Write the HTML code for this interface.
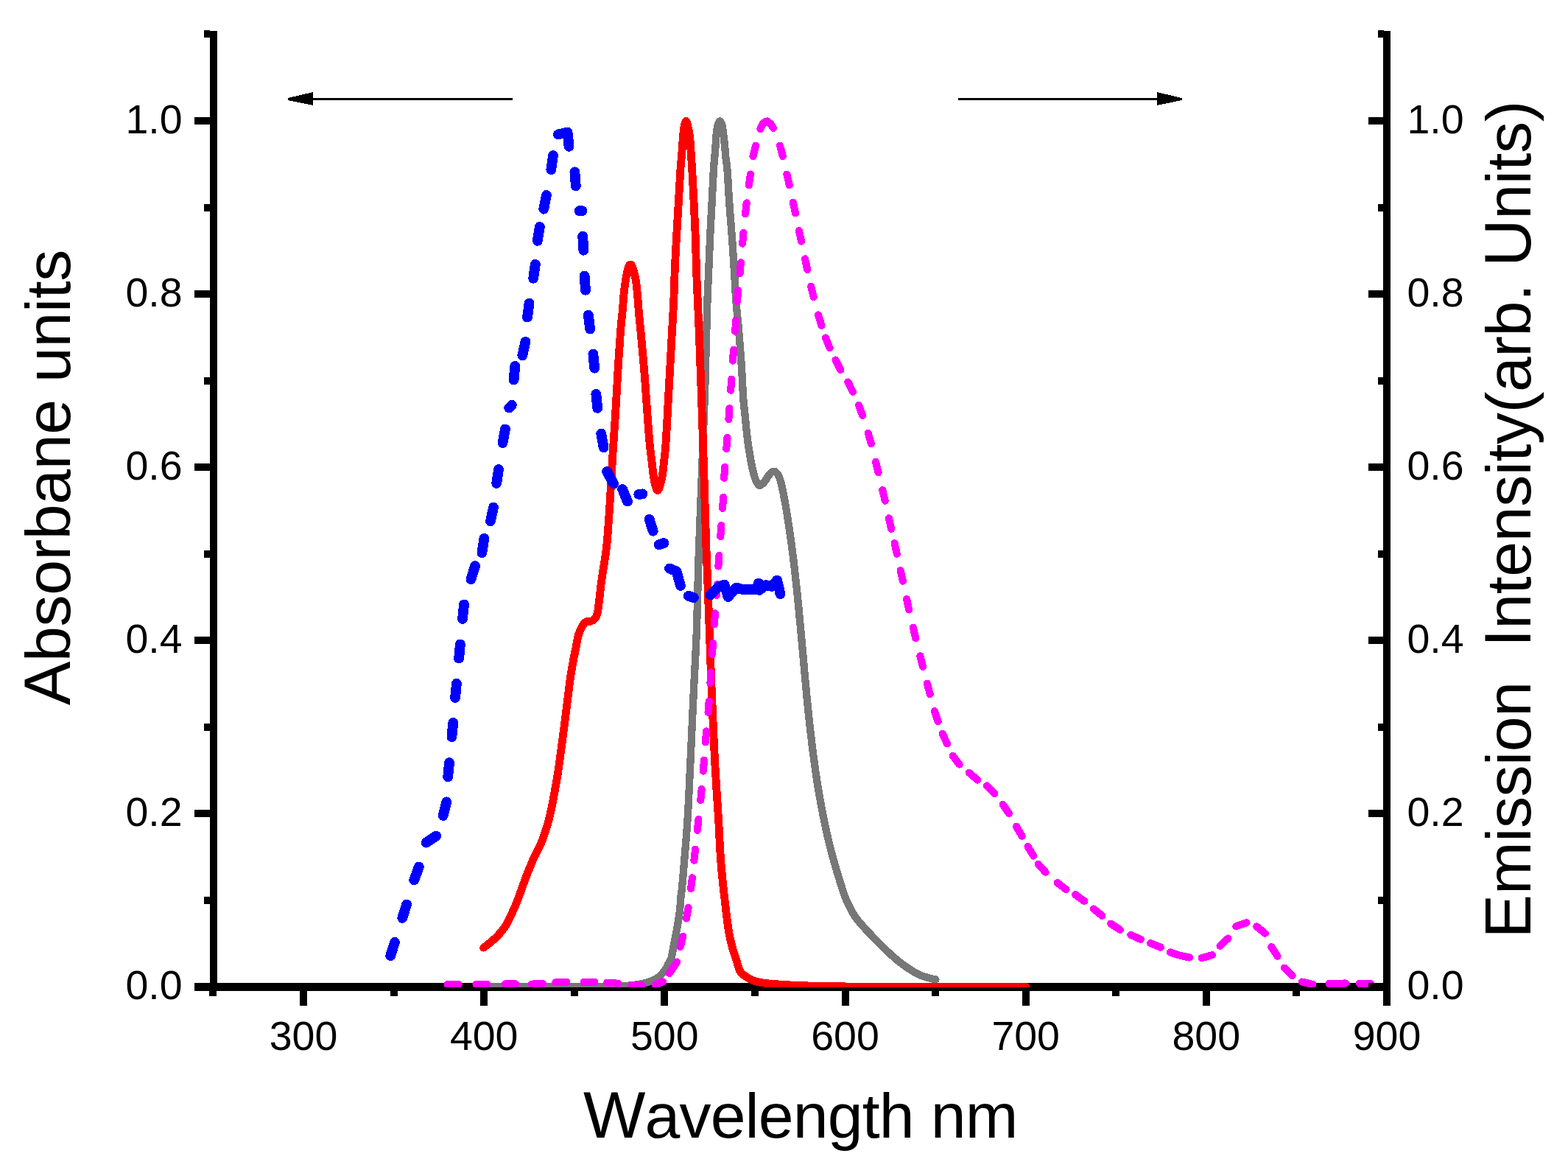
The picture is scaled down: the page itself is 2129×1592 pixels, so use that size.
<!DOCTYPE html><html><head><meta charset="utf-8"><title>Absorbance and emission spectra</title>
<style>html,body{margin:0;padding:0;background:#fff;overflow:hidden;}svg{display:block;}text{font-family:"Liberation Sans",Arial,sans-serif;fill:#000;}</style></head><body>
<svg width="2129" height="1592" viewBox="0 0 2129 1592">
<rect x="0" y="0" width="2129" height="1592" fill="#fff"/>
<defs><clipPath id="pa"><rect x="290" y="0" width="1593" height="1340"/></clipPath></defs>
<g fill="#000" shape-rendering="crispEdges">
<rect x="285" y="42" width="10" height="1303.0"/>
<rect x="1878" y="42" width="10" height="1323.0"/>
<rect x="264" y="1334" width="1624.0" height="11"/>
<rect x="264" y="1334.5" width="21" height="10"/>
<rect x="1858" y="1334.5" width="21" height="10"/>
<rect x="277" y="1217.0" width="8" height="10"/>
<rect x="1871" y="1217.0" width="8" height="10"/>
<rect x="264" y="1099.4" width="21" height="10"/>
<rect x="1858" y="1099.4" width="21" height="10"/>
<rect x="277" y="981.9" width="8" height="10"/>
<rect x="1871" y="981.9" width="8" height="10"/>
<rect x="264" y="864.3" width="21" height="10"/>
<rect x="1858" y="864.3" width="21" height="10"/>
<rect x="277" y="746.8" width="8" height="10"/>
<rect x="1871" y="746.8" width="8" height="10"/>
<rect x="264" y="629.2" width="21" height="10"/>
<rect x="1858" y="629.2" width="21" height="10"/>
<rect x="277" y="511.7" width="8" height="10"/>
<rect x="1871" y="511.7" width="8" height="10"/>
<rect x="264" y="394.1" width="21" height="10"/>
<rect x="1858" y="394.1" width="21" height="10"/>
<rect x="277" y="276.5" width="8" height="10"/>
<rect x="1871" y="276.5" width="8" height="10"/>
<rect x="264" y="159.0" width="21" height="10"/>
<rect x="1858" y="159.0" width="21" height="10"/>
<rect x="277" y="41.4" width="8" height="10"/>
<rect x="1871" y="41.4" width="8" height="10"/>
<rect x="284.4" y="1345" width="10" height="7"/>
<rect x="407.0" y="1345" width="10" height="20"/>
<rect x="529.6" y="1345" width="10" height="7"/>
<rect x="652.2" y="1345" width="10" height="20"/>
<rect x="774.7" y="1345" width="10" height="7"/>
<rect x="897.3" y="1345" width="10" height="20"/>
<rect x="1019.9" y="1345" width="10" height="7"/>
<rect x="1142.5" y="1345" width="10" height="20"/>
<rect x="1265.1" y="1345" width="10" height="7"/>
<rect x="1387.7" y="1345" width="10" height="20"/>
<rect x="1510.2" y="1345" width="10" height="7"/>
<rect x="1632.8" y="1345" width="10" height="20"/>
<rect x="1755.4" y="1345" width="10" height="7"/>
<rect x="1878.0" y="1345" width="10" height="20"/>
</g>
<g clip-path="url(#pa)" fill="none" stroke-linecap="round" stroke-linejoin="round" shape-rendering="crispEdges">
<path d="M657.0 1339.5 C677.5 1339.5 751.2 1339.6 780.0 1339.5 C808.8 1339.4 818.3 1339.2 830.0 1339.0 C841.7 1338.8 843.8 1338.5 850.0 1338.0 C856.2 1337.5 862.3 1336.8 867.0 1336.0 C871.7 1335.2 874.5 1334.5 878.0 1333.5 C881.5 1332.5 885.2 1331.3 888.0 1330.0 C890.8 1328.7 892.5 1327.8 895.0 1325.5 C897.5 1323.2 900.9 1319.4 903.0 1316.5 C905.1 1313.6 906.1 1310.8 907.5 1308.0 C908.9 1305.2 910.1 1305.0 911.5 1300.0 C912.9 1295.0 914.3 1285.2 915.7 1278.0 C917.1 1270.8 918.6 1264.0 919.8 1257.0 C921.0 1250.0 922.1 1243.0 922.9 1236.0 C923.7 1229.0 924.1 1221.1 924.7 1215.0 C925.3 1208.9 925.1 1216.1 926.5 1199.6 C927.9 1183.1 931.4 1144.2 933.3 1116.0 C935.1 1087.8 936.2 1059.2 937.6 1030.7 C939.0 1002.2 940.1 973.8 941.5 945.3 C942.9 916.8 944.5 890.9 945.7 860.0 C946.9 829.1 947.5 790.0 948.5 760.0 C949.5 730.0 950.5 706.7 951.5 680.0 C952.5 653.3 953.5 625.5 954.5 600.0 C955.5 574.5 956.5 550.0 957.2 526.7 C958.0 503.4 958.5 479.5 959.0 460.0 C959.5 440.5 959.9 425.6 960.4 409.9 C960.9 394.2 961.7 380.5 962.3 365.6 C962.9 350.7 963.5 335.5 964.2 320.4 C964.9 305.3 965.8 290.3 966.6 275.2 C967.4 260.1 968.3 240.3 968.9 230.0 C969.5 219.7 969.9 218.4 970.3 213.4 C970.7 208.4 971.0 204.9 971.4 200.2 C971.8 195.5 971.9 190.1 972.4 185.1 C972.9 180.1 973.6 173.6 974.5 170.1 C975.4 166.6 976.5 164.3 977.5 164.3 C978.5 164.3 979.5 166.6 980.4 170.1 C981.2 173.6 982.0 180.1 982.6 185.1 C983.2 190.1 983.8 195.5 984.3 200.2 C984.8 204.9 984.9 208.4 985.4 213.4 C985.9 218.4 986.7 219.7 987.5 230.0 C988.3 240.3 989.2 260.1 990.3 275.2 C991.3 290.3 992.7 305.3 993.8 320.4 C994.9 335.5 995.8 350.7 996.8 365.6 C997.8 380.5 998.4 395.8 999.5 409.9 C1000.6 424.0 1002.0 435.4 1003.2 450.0 C1004.4 464.6 1005.9 482.8 1006.9 497.8 C1007.9 512.8 1008.4 528.6 1009.2 540.0 C1010.0 551.4 1011.0 557.6 1011.9 566.4 C1012.8 575.2 1013.4 583.9 1014.5 592.7 C1015.6 601.5 1017.2 611.8 1018.4 619.1 C1019.6 626.4 1020.6 631.6 1021.8 636.7 C1023.0 641.8 1024.0 646.2 1025.5 649.9 C1027.0 653.6 1029.1 657.6 1030.8 658.7 C1032.5 659.8 1034.0 657.7 1035.5 656.5 C1037.0 655.3 1037.9 653.9 1039.6 651.6 C1041.3 649.3 1043.7 644.9 1045.7 642.9 C1047.7 640.9 1049.5 639.4 1051.4 639.8 C1053.3 640.2 1055.4 642.4 1057.1 645.5 C1058.8 648.6 1059.9 653.0 1061.3 658.7 C1062.7 664.5 1064.3 673.1 1065.6 680.0 C1066.9 686.9 1067.9 693.3 1069.0 700.0 C1070.1 706.7 1071.0 713.3 1072.0 720.0 C1073.0 726.7 1073.9 733.3 1074.8 740.0 C1075.7 746.7 1076.6 753.3 1077.4 760.0 C1078.2 766.7 1079.0 773.3 1079.7 780.0 C1080.5 786.7 1081.2 793.3 1081.9 800.0 C1082.6 806.7 1083.2 813.3 1083.9 820.0 C1084.6 826.7 1085.2 833.3 1085.8 840.0 C1086.4 846.7 1087.1 853.3 1087.7 860.0 C1088.3 866.7 1088.9 873.3 1089.5 880.0 C1090.1 886.7 1090.7 893.3 1091.3 900.0 C1091.9 906.7 1092.5 913.3 1093.1 920.0 C1093.7 926.7 1094.4 933.3 1095.0 940.0 C1095.6 946.7 1096.2 953.3 1096.9 960.0 C1097.6 966.7 1098.3 973.3 1099.0 980.0 C1099.7 986.7 1100.5 993.3 1101.3 1000.0 C1102.1 1006.7 1102.8 1013.3 1103.7 1020.0 C1104.6 1026.7 1105.5 1033.3 1106.4 1040.0 C1107.3 1046.7 1108.3 1053.3 1109.3 1060.0 C1110.3 1066.7 1111.4 1073.3 1112.6 1080.0 C1113.8 1086.7 1115.0 1093.3 1116.3 1100.0 C1117.6 1106.7 1118.9 1113.3 1120.3 1120.0 C1121.7 1126.7 1123.2 1133.3 1124.8 1140.0 C1126.4 1146.7 1128.1 1153.3 1129.9 1160.0 C1131.7 1166.7 1133.5 1173.3 1135.5 1180.0 C1137.5 1186.7 1139.5 1193.3 1141.7 1200.0 C1143.9 1206.7 1145.4 1212.9 1148.5 1220.0 C1151.6 1227.1 1156.2 1236.5 1160.2 1242.8 C1164.2 1249.1 1168.0 1252.8 1172.4 1257.8 C1176.8 1262.8 1181.3 1267.6 1186.5 1272.9 C1191.7 1278.2 1197.8 1284.6 1203.5 1289.9 C1209.2 1295.2 1215.0 1300.6 1220.5 1305.0 C1226.0 1309.4 1231.2 1313.0 1236.5 1316.3 C1241.8 1319.6 1246.8 1322.5 1252.5 1324.7 C1258.2 1326.9 1267.4 1328.7 1270.4 1329.5" stroke="#777777" stroke-width="10.3"/>
<path d="M656.6 1286.2 C658.0 1285.1 662.2 1282.1 665.1 1279.7 C668.0 1277.3 671.2 1274.6 674.1 1271.7 C677.0 1268.8 679.9 1265.6 682.2 1262.6 C684.6 1259.6 686.4 1256.8 688.2 1253.6 C690.0 1250.4 691.5 1247.0 693.2 1243.5 C694.9 1240.0 696.6 1236.3 698.3 1232.5 C700.0 1228.7 701.8 1224.3 703.3 1220.4 C704.8 1216.5 706.0 1213.0 707.3 1209.3 C708.6 1205.6 709.9 1202.0 711.3 1198.3 C712.6 1194.6 714.0 1190.9 715.4 1187.2 C716.8 1183.5 718.4 1179.9 719.9 1176.2 C721.4 1172.5 722.8 1168.6 724.4 1165.1 C726.0 1161.6 727.7 1158.4 729.4 1155.1 C731.1 1151.8 732.7 1149.1 734.4 1145.0 C736.1 1140.9 737.8 1136.4 739.7 1130.7 C741.6 1125.0 743.7 1119.0 745.7 1110.6 C747.8 1102.2 750.1 1090.5 752.0 1080.5 C753.9 1070.5 755.7 1060.3 757.3 1050.3 C758.9 1040.2 760.1 1030.2 761.5 1020.2 C762.9 1010.2 764.4 998.2 765.5 990.0 C766.6 981.8 767.0 979.0 768.0 970.7 C769.0 962.5 770.5 950.5 771.8 940.5 C773.1 930.5 774.2 920.4 775.9 910.4 C777.5 900.4 780.0 888.6 781.7 880.2 C783.4 871.8 784.2 865.5 785.9 860.1 C787.6 854.7 790.1 850.7 791.8 848.0 C793.5 845.3 794.5 844.5 796.0 843.8 C797.5 843.0 799.0 844.0 800.8 843.5 C802.5 843.0 804.9 842.3 806.5 840.9 C808.1 839.5 809.3 837.6 810.2 835.3 C811.1 833.0 811.5 831.1 812.1 827.1 C812.7 823.1 813.3 817.6 814.0 811.4 C814.7 805.2 815.6 796.9 816.5 790.0 C817.4 783.1 818.3 778.2 819.5 770.0 C820.7 761.8 822.2 755.8 823.7 740.9 C825.2 726.0 826.9 700.7 828.2 680.6 C829.5 660.5 830.5 640.4 831.7 620.3 C833.0 600.2 834.4 580.5 835.7 560.0 C837.0 539.5 838.2 515.5 839.3 497.2 C840.4 478.9 841.5 462.9 842.5 450.0 C843.5 437.1 844.6 429.1 845.4 420.0 C846.2 410.9 846.7 401.9 847.4 395.3 C848.1 388.7 848.8 384.6 849.5 380.2 C850.2 375.8 850.9 372.1 851.6 369.0 C852.3 365.9 853.1 363.2 853.8 361.5 C854.5 359.8 855.2 359.0 856.0 359.0 C856.8 359.0 857.5 359.8 858.3 361.5 C859.1 363.2 859.8 365.9 860.6 369.0 C861.4 372.1 862.5 375.0 863.3 380.2 C864.1 385.4 864.8 392.5 865.5 400.0 C866.2 407.5 866.7 416.2 867.5 425.0 C868.3 433.8 869.0 439.3 870.2 452.7 C871.4 466.1 873.5 487.9 874.9 505.5 C876.3 523.1 877.5 542.5 878.7 558.2 C879.9 574.0 880.9 588.9 881.9 600.0 C882.9 611.1 883.9 617.6 884.8 625.1 C885.7 632.6 886.4 639.7 887.2 645.2 C888.0 650.7 888.6 654.6 889.6 658.0 C890.6 661.4 891.9 665.5 893.0 665.5 C894.1 665.5 895.3 661.4 896.4 658.0 C897.5 654.6 898.5 650.7 899.4 645.2 C900.3 639.7 901.0 631.8 901.7 625.1 C902.4 618.4 903.0 616.1 903.8 605.0 C904.6 593.9 905.6 574.8 906.5 558.2 C907.4 541.6 908.4 523.1 909.4 505.5 C910.4 487.9 911.4 468.6 912.3 452.7 C913.2 436.8 914.0 424.4 914.7 409.9 C915.4 395.4 915.6 380.5 916.3 365.6 C916.9 350.7 917.8 335.5 918.6 320.4 C919.4 305.3 920.4 290.3 921.3 275.2 C922.2 260.1 923.2 240.3 923.9 230.0 C924.6 219.7 924.9 218.4 925.3 213.4 C925.7 208.4 926.0 204.9 926.4 200.2 C926.8 195.5 926.9 190.1 927.4 185.1 C927.9 180.1 928.7 173.5 929.4 170.1 C930.1 166.7 930.8 164.4 931.5 164.4 C932.2 164.4 932.9 166.7 933.7 170.1 C934.5 173.5 935.8 180.1 936.5 185.1 C937.2 190.1 937.4 195.5 937.7 200.2 C938.1 204.9 938.3 208.4 938.6 213.4 C938.9 218.4 939.1 219.7 939.7 230.0 C940.3 240.3 941.4 260.1 942.1 275.2 C942.9 290.3 943.6 305.3 944.2 320.4 C944.8 335.5 945.0 350.7 945.5 365.6 C946.0 380.5 946.7 394.2 947.4 409.9 C948.1 425.6 948.8 440.5 949.6 460.0 C950.4 479.5 951.1 501.1 952.0 526.7 C952.9 552.3 954.1 587.9 954.9 613.4 C955.7 638.9 956.4 658.9 957.0 680.0 C957.6 701.1 958.2 722.2 958.8 740.0 C959.4 757.8 959.9 766.8 960.7 786.8 C961.5 806.8 962.4 833.6 963.4 860.0 C964.4 886.4 965.4 916.8 966.6 945.3 C967.8 973.8 969.0 1002.2 970.5 1030.7 C972.0 1059.2 974.6 1096.1 975.8 1116.0 C977.0 1135.9 976.8 1138.2 977.5 1150.0 C978.2 1161.8 979.2 1174.5 980.3 1186.8 C981.4 1199.0 982.9 1211.2 984.3 1223.5 C985.7 1235.8 987.3 1250.1 988.9 1260.3 C990.5 1270.5 992.2 1277.6 994.0 1284.8 C995.8 1292.0 998.0 1297.5 999.9 1303.2 C1001.8 1308.9 1002.6 1315.0 1005.4 1319.1 C1008.2 1323.2 1012.6 1325.5 1016.5 1327.7 C1020.4 1330.0 1024.0 1331.4 1028.7 1332.6 C1033.4 1333.8 1039.0 1334.4 1044.7 1335.0 C1050.4 1335.6 1053.8 1335.8 1063.0 1336.3 C1072.2 1336.8 1077.2 1337.5 1100.0 1338.0 C1122.8 1338.5 1151.2 1339.2 1200.0 1339.5 C1248.8 1339.8 1360.8 1339.5 1393.0 1339.5" stroke="#ff0000" stroke-width="10.8"/>
<path d="M607.6 1335.8 L622.6 1335.8 M646.5 1335.8 L661.5 1335.8 M685.5 1335.5 L700.5 1335.5 M722.0 1335.6 L737.0 1335.0 M754.3 1333.4 L769.3 1333.0 M792.5 1332.9 L807.5 1333.1 M824.2 1333.7 L839.2 1334.7 M856.9 1337.3 L871.9 1337.3 M889.5 1336.5 L900.0 1332.5 M908.8 1321.0 L919.3 1305.5 M923.6 1285.2 L927.4 1270.6 M932.0 1246.5 L934.6 1231.7 M938.1 1206.1 L939.9 1191.3 M942.4 1167.8 L944.0 1152.8 M946.8 1126.9 L948.4 1111.9 M951.3 1086.0 L952.7 1071.0 M954.8 1046.7 L956.0 1031.7 M957.9 1007.3 L959.1 992.3 M961.5 966.7 L962.7 951.7 M964.4 927.4 L965.4 912.4 M967.0 888.0 L968.0 873.0 M969.8 847.4 L971.0 832.4 M973.0 808.0 L974.0 793.0 M975.4 768.6 L976.4 753.6 M978.3 728.1 L979.3 713.1 M981.1 689.9 L982.1 674.9 M983.2 648.8 L984.2 633.8 M986.3 609.1 L987.5 594.1 M989.4 569.2 L990.4 554.2 M992.2 529.7 L993.2 514.7 M994.9 489.6 L996.1 474.6 M998.1 449.7 L999.3 434.7 M1001.0 409.1 L1002.2 394.1 M1004.5 371.3 L1005.9 356.3 M1008.1 330.8 L1009.5 315.8 M1011.9 290.4 L1013.7 275.4 M1016.8 251.3 L1019.0 236.5 M1022.5 212.1 L1026.1 197.7 M1032.5 175.0 L1035.0 169.0 L1039.0 165.2 L1042.0 164.4 L1046.5 168.5 L1050.0 173.8 M1059.0 197.7 L1062.9 212.1 M1068.4 236.6 L1071.8 251.2 M1076.8 274.8 L1080.0 289.4 M1084.9 313.1 L1088.1 327.7 M1093.0 351.3 L1096.2 365.9 M1101.1 388.6 L1104.7 403.2 M1111.1 427.5 L1115.5 441.9 M1121.0 458.5 L1126.6 472.3 M1134.5 488.5 L1141.3 501.9 M1151.4 518.5 L1158.0 531.9 M1166.0 550.0 L1171.2 564.0 M1178.7 587.8 L1182.9 602.2 M1189.0 626.8 L1192.6 641.4 M1198.3 665.1 L1201.7 679.7 M1206.9 703.3 L1210.1 717.9 M1214.6 737.2 L1217.8 751.8 M1222.7 774.2 L1225.9 788.8 M1231.0 812.9 L1234.2 827.5 M1239.8 851.6 L1243.2 866.2 M1249.3 890.2 L1252.9 904.8 M1258.8 927.7 L1262.8 942.1 M1269.0 965.1 L1273.6 979.3 M1279.8 995.8 L1286.0 1009.4 M1293.6 1025.6 L1302.6 1037.6 M1315.9 1048.8 L1327.3 1058.6 M1339.8 1066.4 L1350.4 1077.0 M1361.6 1091.7 L1370.0 1104.1 M1380.0 1121.8 L1387.6 1134.8 M1395.5 1148.8 L1403.3 1161.6 M1409.6 1172.6 L1419.6 1183.8 M1435.7 1198.1 L1447.5 1207.3 M1460.0 1214.2 L1472.2 1223.0 M1484.8 1233.5 L1496.4 1242.9 M1508.2 1253.7 L1520.8 1261.9 M1535.3 1268.8 L1548.9 1275.0 M1562.1 1280.1 L1575.9 1285.7 M1589.0 1292.5 L1603.0 1297.0 L1615.0 1299.5 M1631.6 1300.3 L1646.0 1296.1 M1656.5 1283.7 L1667.5 1273.5 M1678.3 1257.2 L1692.5 1252.4 M1706.2 1257.4 L1717.8 1266.8 M1726.3 1285.1 L1734.5 1297.7 M1743.9 1313.7 L1754.7 1324.1 M1767.7 1332.5 L1782.3 1335.9 M1804.5 1335.0 L1827.0 1334.5 M1845.9 1334.8 L1860.9 1334.8" stroke="#ff00ff" stroke-width="10.1"/>
<path d="M530.2 1297.2 L536.0 1278.8 M546.3 1245.9 L552.1 1227.5 M562.3 1194.4 L568.9 1176.4 M578.6 1143.7 L592.1 1134.5 M601.6 1107.0 L606.2 1088.4 M608.2 1054.3 L610.0 1035.1 M613.4 1000.1 L615.2 980.9 M618.1 947.0 L619.9 927.8 M623.1 893.6 L624.9 874.4 M628.0 840.0 L630.0 820.4 M639.4 786.2 L645.1 768.2 M654.4 750.1 L657.4 730.9 M666.0 707.4 L670.0 688.6 M674.2 656.0 L677.0 637.0 M682.5 601.2 L685.9 582.4 M691.2 553.6 L694.9 549.9 M699.3 496.9 L697.6 515.5 M709.3 482.5 L713.5 463.7 M716.0 430.6 L718.6 411.6 M724.2 377.8 L726.8 358.8 M729.8 326.8 L732.8 307.8 M738.3 283.7 L741.9 264.9 M748.3 230.2 L751.0 211.0 M757.9 182.5 L770.5 179.5 L772.6 198.8 M780.4 233.3 L781.8 252.4 M786.6 286.1 L790.6 286.1 M791.2 320.6 L792.4 339.8 M793.6 374.5 L795.0 393.7 M798.9 427.6 L801.1 446.6 M805.4 480.5 L807.2 499.7 M809.3 534.9 L811.3 553.9 M816.2 588.4 L819.6 607.4 M824.1 639.9 L833.2 656.5 M845.2 664.0 L852.0 680.6 M867.3 670.9 L872.4 670.4 M881.7 704.8 L886.7 720.7 M894.7 739.3 L901.4 737.1 M909.0 771.5 L918.5 775.5 L924.0 795.0 M934.8 808.8 L942.1 811.1 M964.4 807.6 L976.0 796.0 L983.5 793.5 L988.5 810.0 L1000.0 797.5 L1008.0 800.0 L1020.0 800.0 L1027.0 800.5 L1030.0 791.5 L1031.0 801.0 L1040.0 794.0 L1048.0 796.0 L1055.0 787.5 L1059.5 806.0" stroke="#0000ff" stroke-width="13.8"/>
</g>
<g fill="#000" shape-rendering="crispEdges">
<rect x="1858" y="1334" width="21" height="11"/>
<rect x="420" y="133" width="276.0" height="3"/>
<polygon points="391,133 425,125 425,143 391,136"/>
<rect x="1301" y="133" width="274.0" height="3"/>
<polygon points="1604.5,133 1571,125 1571,143 1604.5,136"/>
</g>
<g font-size="55.5">
<text x="247.6" y="1356.1" text-anchor="end">0.0</text>
<text x="1910.5" y="1356.1">0.0</text>
<text x="247.6" y="1121.0" text-anchor="end">0.2</text>
<text x="1910.5" y="1121.0">0.2</text>
<text x="247.6" y="885.9" text-anchor="end">0.4</text>
<text x="1910.5" y="885.9">0.4</text>
<text x="247.6" y="650.8" text-anchor="end">0.6</text>
<text x="1910.5" y="650.8">0.6</text>
<text x="247.6" y="415.7" text-anchor="end">0.8</text>
<text x="1910.5" y="415.7">0.8</text>
<text x="247.6" y="180.6" text-anchor="end">1.0</text>
<text x="1910.5" y="180.6">1.0</text>
<text x="412.0" y="1424.5" text-anchor="middle">300</text>
<text x="657.2" y="1424.5" text-anchor="middle">400</text>
<text x="902.3" y="1424.5" text-anchor="middle">500</text>
<text x="1147.5" y="1424.5" text-anchor="middle">600</text>
<text x="1392.7" y="1424.5" text-anchor="middle">700</text>
<text x="1637.8" y="1424.5" text-anchor="middle">800</text>
<text x="1883.0" y="1424.5" text-anchor="middle">900</text>
</g>
<g font-size="86.0">
<text x="792" y="1544" textLength="590.3" lengthAdjust="spacing"><tspan font-size="89.5">W</tspan>avelength nm</text>
<text transform="translate(95,957.2) rotate(-90)" textLength="618.4" lengthAdjust="spacing"><tspan font-size="89.5">A</tspan>bsorbane units</text>
<text transform="translate(2078,1273.4) rotate(-90)" textLength="1136.7" lengthAdjust="spacing" xml:space="preserve"><tspan font-size="89.5">E</tspan>mission  <tspan font-size="89.5">I</tspan>ntensity(arb. <tspan font-size="89.5">U</tspan>nits)</text>
</g>
</svg></body></html>
